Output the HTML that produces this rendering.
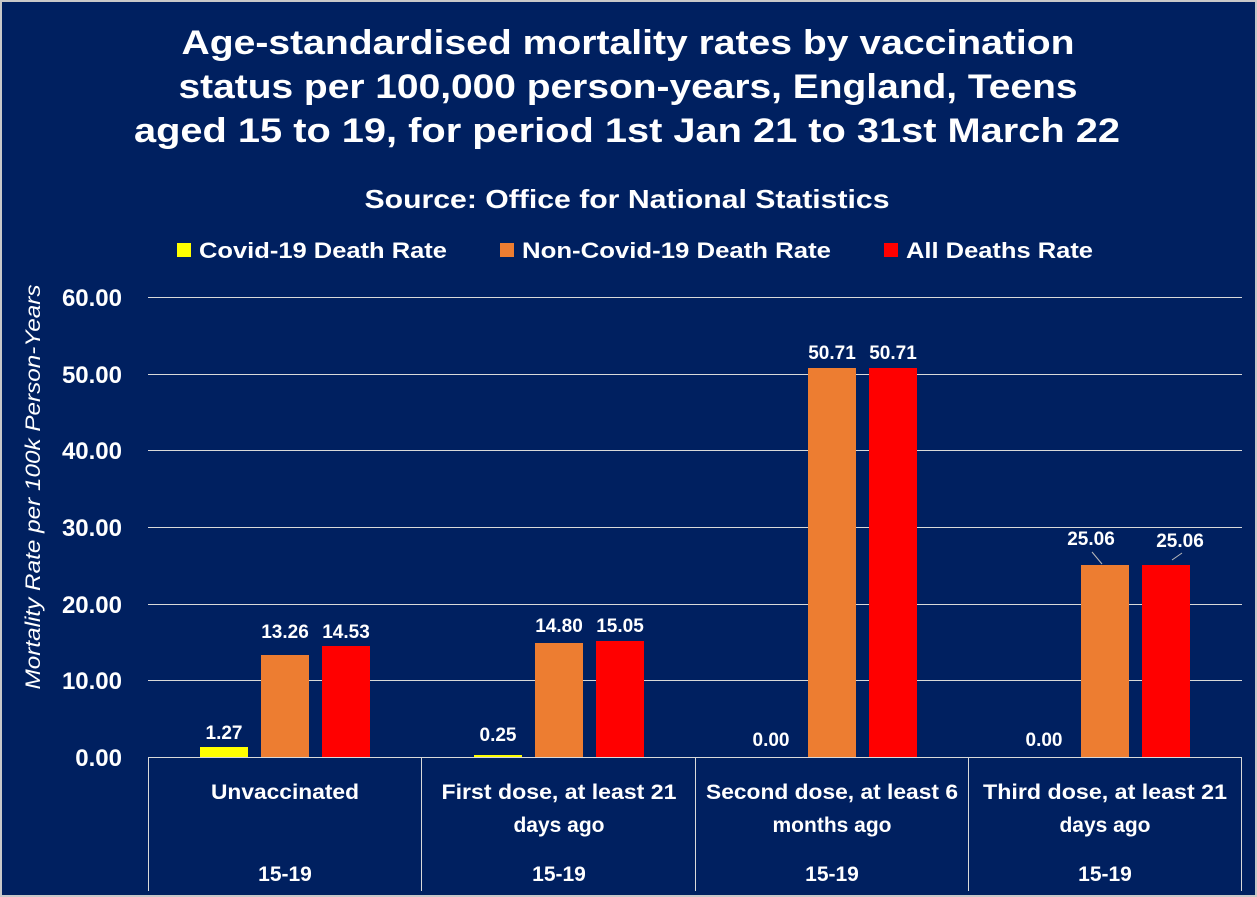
<!DOCTYPE html>
<html><head><meta charset="utf-8"><style>
html,body{margin:0;padding:0;background:#002060;}
svg{display:block;}
text{font-family:"Liberation Sans",sans-serif;font-weight:bold;fill:#fff;}
</style></head><body>
<svg width="1257" height="897" viewBox="0 0 1257 897" xmlns="http://www.w3.org/2000/svg">
<rect x="0" y="0" width="1257" height="897" fill="#002060"/>
<rect x="1" y="1" width="1255" height="895" fill="none" stroke="#c8c8c8" stroke-width="2"/>
<!-- title -->
<text x="628" y="54" font-size="34" text-anchor="middle" textLength="893" lengthAdjust="spacingAndGlyphs">Age-standardised mortality rates by vaccination</text>
<text x="628" y="98" font-size="34" text-anchor="middle" textLength="899" lengthAdjust="spacingAndGlyphs">status per 100,000 person-years, England, Teens</text>
<text x="627" y="142" font-size="34" text-anchor="middle" textLength="986" lengthAdjust="spacingAndGlyphs">aged 15 to 19, for period 1st Jan 21 to 31st March 22</text>
<text x="627" y="208" font-size="26" text-anchor="middle" textLength="525" lengthAdjust="spacingAndGlyphs">Source: Office for National Statistics</text>
<!-- legend -->
<rect x="177" y="243" width="14" height="14" fill="#ffff00"/>
<text x="199" y="258" font-size="22" textLength="248" lengthAdjust="spacingAndGlyphs">Covid-19 Death Rate</text>
<rect x="500" y="243" width="14" height="14" fill="#ed7d31"/>
<text x="522" y="258" font-size="22" textLength="309" lengthAdjust="spacingAndGlyphs">Non-Covid-19 Death Rate</text>
<rect x="884" y="243" width="14" height="14" fill="#ff0000"/>
<text x="906" y="258" font-size="22" textLength="187" lengthAdjust="spacingAndGlyphs">All Deaths Rate</text>
<!-- grid -->
<g stroke="#d9d9d9" stroke-width="1">
<line x1="148" y1="297.5" x2="1242" y2="297.5"/>
<line x1="148" y1="374.5" x2="1242" y2="374.5"/>
<line x1="148" y1="450.5" x2="1242" y2="450.5"/>
<line x1="148" y1="527.5" x2="1242" y2="527.5"/>
<line x1="148" y1="604.5" x2="1242" y2="604.5"/>
<line x1="148" y1="680.5" x2="1242" y2="680.5"/>
</g>
<!-- y labels -->
<g font-size="24" text-anchor="end">
<text x="122" y="306">60.00</text>
<text x="122" y="383">50.00</text>
<text x="122" y="459">40.00</text>
<text x="122" y="536">30.00</text>
<text x="122" y="613">20.00</text>
<text x="122" y="689">10.00</text>
<text x="122" y="766">0.00</text>
</g>
<text transform="translate(40,487) rotate(-90)" font-size="21" font-weight="normal" font-style="italic" text-anchor="middle" textLength="405" lengthAdjust="spacingAndGlyphs" style="font-weight:normal">Mortality Rate per 100k Person-Years</text>
<!-- bars -->
<rect x="200" y="747" width="48" height="10" fill="#ffff00"/>
<rect x="261" y="655" width="48" height="102" fill="#ed7d31"/>
<rect x="322" y="646" width="48" height="111" fill="#ff0000"/>
<rect x="474" y="755" width="48" height="2" fill="#ffff00"/>
<rect x="535" y="643" width="48" height="114" fill="#ed7d31"/>
<rect x="596" y="641" width="48" height="116" fill="#ff0000"/>
<rect x="808" y="368" width="48" height="389" fill="#ed7d31"/>
<rect x="869" y="368" width="48" height="389" fill="#ff0000"/>
<rect x="1081" y="565" width="48" height="192" fill="#ed7d31"/>
<rect x="1142" y="565" width="48" height="192" fill="#ff0000"/>
<!-- value labels -->
<g font-size="19" text-anchor="middle">
<text x="224" y="739">1.27</text>
<text x="285" y="638">13.26</text>
<text x="346" y="638">14.53</text>
<text x="498" y="741">0.25</text>
<text x="559" y="632">14.80</text>
<text x="620" y="632">15.05</text>
<text x="771" y="746">0.00</text>
<text x="832" y="359">50.71</text>
<text x="893" y="359">50.71</text>
<text x="1044" y="746">0.00</text>
<text x="1091" y="545">25.06</text>
<text x="1180" y="547">25.06</text>
</g>
<line x1="1092" y1="552" x2="1102" y2="564" stroke="#bbb" stroke-width="1"/>
<line x1="1182" y1="553" x2="1172" y2="560" stroke="#bbb" stroke-width="1"/>
<!-- category axis -->
<g stroke="#d9d9d9" stroke-width="1">
<line x1="148" y1="757.5" x2="1242" y2="757.5"/>
<line x1="148.5" y1="757" x2="148.5" y2="891"/>
<line x1="421.5" y1="757" x2="421.5" y2="891"/>
<line x1="695.5" y1="757" x2="695.5" y2="891"/>
<line x1="968.5" y1="757" x2="968.5" y2="891"/>
<line x1="1241.5" y1="757" x2="1241.5" y2="891"/>
</g>
<g font-size="21" text-anchor="middle">
<text x="285" y="799" textLength="148" lengthAdjust="spacingAndGlyphs">Unvaccinated</text>
<text x="559" y="799" textLength="235" lengthAdjust="spacingAndGlyphs">First dose, at least 21</text>
<text x="559" y="832">days ago</text>
<text x="832" y="799" textLength="252" lengthAdjust="spacingAndGlyphs">Second dose, at least 6</text>
<text x="832" y="832">months ago</text>
<text x="1105" y="799" textLength="244" lengthAdjust="spacingAndGlyphs">Third dose, at least 21</text>
<text x="1105" y="832">days ago</text>
<text x="285" y="881">15-19</text>
<text x="559" y="881">15-19</text>
<text x="832" y="881">15-19</text>
<text x="1105" y="881">15-19</text>
</g>
</svg>
</body></html>
